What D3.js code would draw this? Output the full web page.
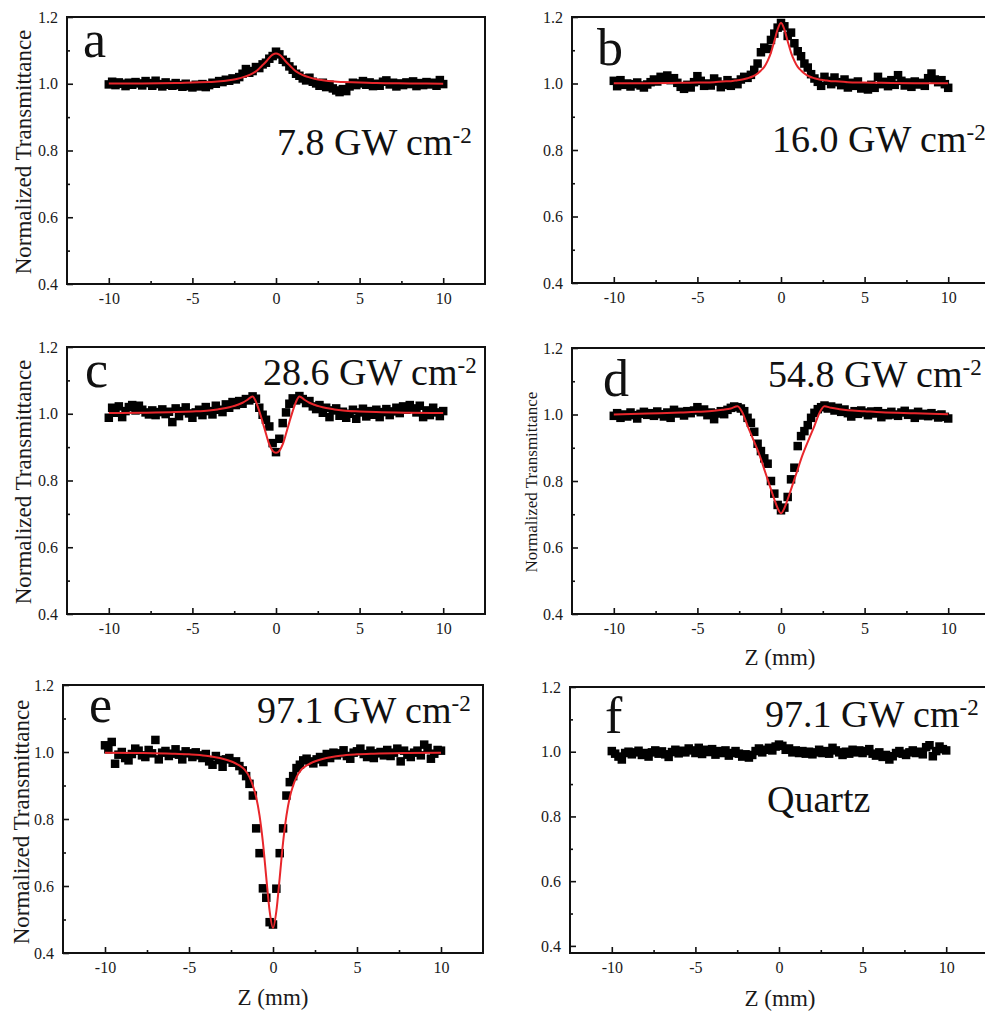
<!DOCTYPE html>
<html>
<head>
<meta charset="utf-8">
<script src="https://cdn.jsdelivr.net/npm/d3@7"></script>
<style>
  html, body { margin: 0; padding: 0; background: #fff; }
  svg { display: block; }
</style>
</head>
<body>
<svg id="chart" width="985" height="1011" font-family="Liberation Serif"></svg>
<script>
// ---------------- DATA ----------------
const zPositions = [-10,-9.8,-9.6,-9.4,-9.2,-9,-8.8,-8.6,-8.4,-8.2,-8,-7.8,-7.6,-7.4,-7.2,-7,-6.8,-6.6,-6.4,-6.2,-6,-5.8,-5.6,-5.4,-5.2,-5,-4.8,-4.6,-4.4,-4.2,-4,-3.8,-3.6,-3.4,-3.2,-3,-2.8,-2.6,-2.4,-2.2,-2,-1.8,-1.6,-1.4,-1.2,-1,-0.8,-0.6,-0.4,-0.2,0,0.2,0.4,0.6,0.8,1,1.2,1.4,1.6,1.8,2,2.2,2.4,2.6,2.8,3,3.2,3.4,3.6,3.8,4,4.2,4.4,4.6,4.8,5,5.2,5.4,5.6,5.8,6,6.2,6.4,6.6,6.8,7,7.2,7.4,7.6,7.8,8,8.2,8.4,8.6,8.8,9,9.2,9.4,9.6,9.8,10];

const seriesA = [0.998,1.006,0.996,1.004,1.000,0.993,1.003,0.997,1.005,1.001,
  0.995,1.008,1.002,0.994,1.009,0.999,0.992,1.004,0.997,0.994,
  1.002,0.996,0.991,1.000,0.993,0.989,0.997,0.992,0.999,0.990,
  0.996,1.003,1.000,1.008,1.005,1.012,1.009,1.016,1.013,1.020,
  1.030,1.044,1.033,1.038,1.050,1.047,1.058,1.063,1.075,1.083,
  1.096,1.088,1.072,1.065,1.052,1.042,1.030,1.024,1.016,1.010,
  1.018,1.006,1.001,0.994,1.003,0.990,0.997,0.986,0.980,0.975,
  0.984,0.978,0.992,1.003,0.996,1.001,1.008,0.997,1.004,0.993,
  1.000,0.994,1.006,1.010,0.998,1.003,0.992,1.001,0.996,1.004,
  0.999,1.007,0.993,1.002,0.996,1.005,0.998,1.003,0.994,1.011,0.999];

const seriesB = [1.008,0.992,1.010,0.996,1.000,0.991,0.998,1.003,0.994,0.988,
  0.997,1.004,1.012,1.006,1.020,1.015,1.024,1.010,1.016,1.002,
  0.990,0.984,0.996,0.988,1.004,1.022,1.008,0.993,1.000,0.994,
  1.015,1.006,0.989,0.996,1.010,0.993,1.003,0.998,1.012,1.020,
  1.017,1.026,1.041,1.060,1.094,1.108,1.104,1.131,1.150,1.168,
  1.182,1.172,1.143,1.153,1.121,1.097,1.082,1.060,1.048,1.028,
  1.015,1.005,0.993,1.020,1.008,0.998,1.018,1.004,0.995,1.012,
  0.988,1.002,0.993,1.006,0.985,0.990,0.982,0.996,0.987,1.020,
  0.998,1.005,0.992,1.010,0.996,1.025,1.008,0.994,1.003,0.990,
  1.006,0.997,1.002,0.993,1.016,1.030,1.012,1.004,1.010,0.998,0.987];

const seriesC = [0.988,1.018,1.003,1.022,0.990,1.008,1.020,1.026,1.010,1.024,
  1.012,1.004,0.998,1.010,0.996,1.005,1.013,0.999,1.006,0.975,
  1.016,0.993,1.008,1.019,1.001,0.988,1.004,1.012,0.996,1.020,
  1.008,0.998,1.024,1.012,1.005,1.028,1.018,1.035,1.026,1.038,
  1.030,1.044,1.040,1.052,1.045,1.018,0.997,0.982,0.962,0.912,
  0.885,0.925,0.972,1.004,1.030,1.046,1.040,1.053,1.044,1.032,
  1.038,1.022,1.014,1.026,1.003,1.018,0.990,1.010,1.016,0.994,
  1.006,0.988,1.000,1.012,0.985,1.004,1.015,0.992,1.008,0.997,
  1.012,0.990,1.005,1.014,0.996,1.007,1.018,1.002,1.022,1.012,
  1.026,1.016,1.004,1.024,0.990,1.010,0.996,1.018,1.004,0.993,1.008];

const seriesD = [0.996,1.004,0.990,1.000,0.994,1.006,0.998,0.988,1.002,1.008,
  0.999,1.004,0.996,1.009,1.001,0.994,1.006,0.990,1.014,1.003,
  1.008,0.997,1.010,1.004,1.012,1.022,1.007,1.015,0.998,1.006,
  0.986,1.003,1.010,1.001,1.014,1.020,1.024,1.022,1.018,1.010,
  0.990,0.975,0.948,0.912,0.890,0.868,0.852,0.800,0.762,0.728,
  0.712,0.720,0.752,0.805,0.840,0.905,0.935,0.950,0.968,0.990,
  1.005,1.016,1.022,1.027,1.018,1.024,1.012,1.020,1.008,1.015,
  1.004,0.994,1.010,1.002,1.012,1.006,0.998,1.009,1.003,1.010,
  0.992,1.004,0.998,1.008,1.000,0.996,1.006,1.011,0.999,1.003,
  0.990,1.008,0.997,1.002,0.995,1.004,0.998,0.991,1.000,0.993,0.988];

const seriesE = [1.020,1.008,1.030,0.965,0.992,1.000,0.982,0.975,0.994,1.010,
  1.004,0.990,0.985,1.006,0.996,1.036,0.978,0.998,1.003,0.988,
  0.995,1.008,0.992,0.978,1.002,0.996,0.985,0.999,0.990,0.982,
  0.994,0.972,0.962,0.988,0.976,0.956,0.978,0.982,0.968,0.972,
  0.958,0.945,0.928,0.905,0.870,0.772,0.698,0.593,0.565,0.492,
  0.485,0.592,0.698,0.772,0.870,0.910,0.928,0.952,0.962,0.975,
  0.980,0.972,0.966,0.978,0.985,0.970,0.994,0.982,0.998,0.990,
  0.996,1.005,0.988,0.980,0.998,1.002,1.010,0.994,0.985,1.004,
  0.982,0.996,1.000,0.990,1.006,0.988,0.998,1.010,0.972,1.004,
  0.992,0.985,0.998,1.004,0.990,1.022,1.012,0.980,0.995,1.006,1.004];

const seriesF = [1.002,0.994,0.985,0.976,0.996,1.000,0.992,0.998,1.003,0.990,
  0.996,0.985,0.998,1.004,0.994,1.001,0.992,0.984,0.999,1.006,
  0.995,1.003,0.998,1.010,1.004,0.996,1.012,0.993,1.006,0.999,
  1.008,0.991,1.002,0.996,1.004,0.988,0.996,1.002,0.994,0.985,
  0.992,0.982,0.990,1.002,1.010,0.998,1.006,1.012,1.004,1.016,
  1.022,1.018,1.006,1.010,0.998,1.004,0.996,1.002,0.994,1.000,
  0.992,0.998,1.006,0.996,1.002,0.994,1.012,1.004,0.998,0.990,
  1.000,0.994,1.006,0.998,1.004,0.996,1.002,1.008,0.994,0.988,
  0.998,0.984,0.990,0.976,0.986,0.996,1.002,0.994,0.990,0.998,
  1.004,0.996,1.000,0.992,1.014,1.020,0.986,1.002,1.016,1.008,1.004];

// fitted curves (red)
const fitZ = [-10,-8,-6,-5,-4,-3.5,-3,-2.6,-2.3,-2,-1.7,-1.4,-1.2,-1,-0.8,-0.6,-0.4,-0.2,0,0.2,0.4,0.6,0.8,1,1.2,1.4,1.7,2,2.3,2.6,3,3.5,4,5,6,8,10];
const fitA = [1.001,1.001,1.002,1.004,1.005,1.007,1.009,1.012,1.015,1.019,1.024,1.031,1.037,1.046,1.056,1.066,1.078,1.087,1.091,
  1.087,1.078,1.066,1.056,1.046,1.037,1.031,1.024,1.019,1.015,1.012,1.009,1.007,1.005,1.004,1.002,1.001,1.000];
const fitB = [1.001,1.001,1.002,1.003,1.004,1.006,1.007,1.010,1.012,1.016,1.021,1.030,1.039,1.050,1.068,1.093,1.127,1.163,1.183,
  1.163,1.127,1.093,1.068,1.050,1.039,1.030,1.021,1.016,1.012,1.010,1.007,1.006,1.004,1.003,1.002,1.001,1.001];
const fitC = [1.002,1.003,1.005,1.007,1.010,1.013,1.017,1.022,1.027,1.033,1.042,1.052,1.036,1.008,0.975,0.940,0.908,0.889,0.883,
  0.889,0.908,0.940,0.975,1.008,1.036,1.052,1.042,1.033,1.027,1.022,1.017,1.013,1.010,1.007,1.005,1.003,1.002];
const fitD = [1.000,1.003,1.006,1.008,1.011,1.014,1.018,1.025,1.005,0.966,0.930,0.893,0.866,0.835,0.805,0.775,0.745,0.718,0.703,
  0.718,0.745,0.775,0.805,0.835,0.866,0.893,0.930,0.966,1.005,1.025,1.020,1.016,1.013,1.010,1.007,1.004,1.001];
const fitE = [0.998,0.997,0.995,0.993,0.989,0.985,0.980,0.974,0.968,0.960,0.948,0.925,0.900,0.865,0.810,0.730,0.625,0.525,0.475,
  0.525,0.625,0.730,0.810,0.865,0.900,0.925,0.948,0.960,0.968,0.974,0.980,0.985,0.989,0.993,0.995,0.997,0.998];

const yTicks = [0.4, 0.6, 0.8, 1.0, 1.2];
const yMinorTicks = [0.5, 0.7, 0.9, 1.1];
const xTicks = [-10, -5, 0, 5, 10];
const xMinorTicks = [-7.5, -2.5, 2.5, 7.5];
const panelLetters = ["a", "b", "c", "d", "e", "f"];
const powerLabels = ["7.8 GW cm", "16.0 GW cm", "28.6 GW cm", "54.8 GW cm", "97.1 GW cm", "97.1 GW cm"];
const yTitle = "Normalized Transmittance";
const xTitle = "Z (mm)";
const sampleLabel = "Quartz";

// ---------------- LAYOUT ----------------
const FONT = "Liberation Serif";
const panels = [
  {data: seriesA, fit: fitA, box: {l: 67, r: 485, t: 17, b: 284}, yDom: [0.4, 1.2],
   yt: {x: 31, y: 152, size: 23}, letter: {x: 83, y: 57}, lab: {x: 277, y: 155}},
  {data: seriesB, fit: fitB, box: {l: 572, r: 990, t: 17, b: 283}, yDom: [0.4, 1.2],
   yt: null, letter: {x: 597, y: 65}, lab: {x: 772, y: 152}},
  {data: seriesC, fit: fitC, box: {l: 67, r: 485, t: 347, b: 614}, yDom: [0.4, 1.2],
   yt: {x: 31, y: 482, size: 23}, letter: {x: 85, y: 387}, lab: {x: 263, y: 385}},
  {data: seriesD, fit: fitD, box: {l: 572, r: 990, t: 348, b: 614}, yDom: [0.4, 1.2],
   yt: {x: 537, y: 482, size: 17}, letter: {x: 603, y: 396}, lab: {x: 768, y: 387},
   xt: {x: 780, y: 665}},
  {data: seriesE, fit: fitE, box: {l: 63, r: 483, t: 685, b: 953}, yDom: [0.4, 1.2],
   yt: {x: 29, y: 822, size: 23}, letter: {x: 89, y: 722}, lab: {x: 257, y: 723},
   xt: {x: 273, y: 1005}},
  {data: seriesF, fit: null, box: {l: 570, r: 988, t: 687, b: 953}, yDom: [0.378, 1.2],
   yt: null, letter: {x: 605, y: 733}, lab: {x: 765, y: 727}, extra: {x: 767, y: 812},
   xt: {x: 780, y: 1006}}
];

const svg = d3.select("#chart");
const fmtY = d3.format(".1f");
const fmtX = d => (d < 0 ? "-" : "") + Math.abs(d);
const MS = 8.5;

panels.forEach((p, idx) => {
  const b = p.box;
  const x = d3.scaleLinear().domain([-12.5, 12.5]).range([b.l, b.r]);
  const y = d3.scaleLinear().domain(p.yDom).range([b.b, b.t]);
  const g = svg.append("g");

  // markers
  g.append("g").selectAll("rect").data(p.data).join("rect")
    .attr("x", (d, i) => x(zPositions[i]) - MS / 2)
    .attr("y", d => y(d) - MS / 2)
    .attr("width", MS).attr("height", MS)
    .attr("fill", "#000");

  // fit
  if (p.fit) {
    const line = d3.line()
      .x((d, i) => x(fitZ[i]))
      .y(d => y(d))
      .curve(d3.curveMonotoneX);
    g.append("path").datum(p.fit)
      .attr("d", line)
      .attr("fill", "none")
      .attr("stroke", "#e8262b")
      .attr("stroke-width", 2);
  }

  // axes (inward ticks)
  const yAx = g.append("g").attr("transform", `translate(${b.l},0)`)
    .call(d3.axisLeft(y).tickValues(yTicks).tickFormat(fmtY).tickSizeInner(-6).tickSizeOuter(0).tickPadding(9));
  const yMin = g.append("g").attr("transform", `translate(${b.l},0)`)
    .call(d3.axisLeft(y).tickValues(yMinorTicks).tickFormat("").tickSizeInner(-3).tickSizeOuter(0));
  const xAx = g.append("g").attr("transform", `translate(0,${b.b})`)
    .call(d3.axisBottom(x).tickValues(xTicks).tickFormat(fmtX).tickSizeInner(-6).tickSizeOuter(0).tickPadding(9));
  const xMin = g.append("g").attr("transform", `translate(0,${b.b})`)
    .call(d3.axisBottom(x).tickValues(xMinorTicks).tickFormat("").tickSizeInner(-3).tickSizeOuter(0));
  [yAx, yMin, xAx, xMin].forEach(a => {
    a.attr("font-family", FONT);
    a.select(".domain").remove();
    a.selectAll(".tick line").attr("stroke", "#111").attr("stroke-width", 1.6);
    a.selectAll(".tick text").attr("font-family", FONT).attr("font-size", 16).attr("fill", "#1a1a1a");
  });

  // frame
  g.append("rect")
    .attr("x", b.l).attr("y", b.t)
    .attr("width", b.r - b.l).attr("height", b.b - b.t)
    .attr("fill", "none").attr("stroke", "#111").attr("stroke-width", 2);

  // y title
  if (p.yt) {
    g.append("text")
      .attr("transform", `translate(${p.yt.x},${p.yt.y}) rotate(-90)`)
      .attr("text-anchor", "middle")
      .attr("font-family", FONT)
      .attr("font-size", p.yt.size)
      .attr("fill", "#1a1a1a")
      .text(yTitle);
  }
  // x title
  if (p.xt) {
    g.append("text")
      .attr("x", p.xt.x).attr("y", p.xt.y)
      .attr("text-anchor", "middle")
      .attr("font-family", FONT)
      .attr("font-size", 23)
      .attr("fill", "#1a1a1a")
      .text(xTitle);
  }
  // panel letter
  g.append("text")
    .attr("x", p.letter.x).attr("y", p.letter.y)
    .attr("font-family", FONT)
    .attr("font-size", 52)
    .attr("fill", "#111")
    .text(panelLetters[idx]);
  // power label with superscript
  const t = g.append("text")
    .attr("x", p.lab.x).attr("y", p.lab.y)
    .attr("font-family", FONT)
    .attr("font-size", 38)
    .attr("fill", "#111");
  t.append("tspan").text(powerLabels[idx]);
  t.append("tspan").attr("font-size", 23).attr("dy", -12).text("-2");
  if (p.extra) {
    g.append("text")
      .attr("x", p.extra.x).attr("y", p.extra.y)
      .attr("font-family", FONT)
      .attr("font-size", 38)
      .attr("fill", "#111")
      .text(sampleLabel);
  }
});
</script>
</body>
</html>
